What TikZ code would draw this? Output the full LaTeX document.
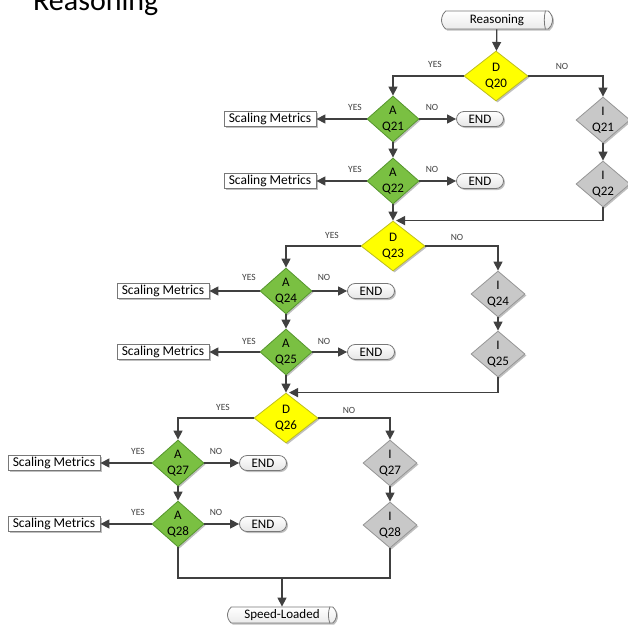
\documentclass[tikz,border=0pt]{standalone}
\usepackage{fontspec}
\setmainfont{Carlito}
\usetikzlibrary{shapes.geometric,shapes.misc,arrows.meta,shadows}
\definecolor{lin}{RGB}{64,64,64}
\definecolor{grn}{RGB}{122,192,66}
\definecolor{grnb}{RGB}{86,150,46}
\definecolor{yel}{RGB}{255,255,0}
\definecolor{yelb}{RGB}{190,190,30}
\definecolor{gry}{RGB}{200,200,200}
\definecolor{gryb}{RGB}{150,150,150}
\definecolor{boxc}{RGB}{120,120,120}
\begin{document}
\begin{tikzpicture}[x=1pt,y=-1pt,
 shad/.style={drop shadow={shadow xshift=1.5pt,shadow yshift=-1.5pt,opacity=0.25,fill=black}},
 dia/.style={shape=diamond,draw,line width=0.8pt,inner sep=0pt,minimum width=52pt,minimum height=46pt,shad},
 adia/.style={dia,fill=grn,draw=grnb},
 ddia/.style={dia,fill=yel,draw=yelb,minimum width=64pt,minimum height=50pt},
 idia/.style={dia,fill=gry,draw=gryb,minimum width=54pt,minimum height=46pt},
 dtxt/.style={align=center,font=\fontsize{13}{16}\selectfont,inner sep=0pt},
 smbox/.style={draw=boxc,fill=white,line width=0.8pt,minimum width=92pt,minimum height=15pt,inner sep=0pt,font=\fontsize{13.5}{15}\selectfont,shad},
 endbox/.style={rounded rectangle,draw=boxc,top color=white,bottom color=black!10,line width=0.8pt,minimum width=47pt,minimum height=15pt,inner sep=0pt,font=\fontsize{13}{15}\selectfont,shad},
 cylbox/.style={rounded rectangle,rounded rectangle arc length=100,draw=boxc,top color=white,bottom color=black!8,line width=0.8pt,minimum width=111pt,minimum height=18pt,inner sep=0pt,font=\fontsize{13}{15}\selectfont,shad},
 cylend/.style={draw=boxc,line width=0.8pt},
 lbl/.style={font=\fontsize{9.5}{11}\selectfont,text=lin,inner sep=0pt},
 ln/.style={draw=lin,line width=1.3pt},
 arr/.style={ln,-{Triangle[length=9pt,width=9pt]}}]
\useasboundingbox (0,0) rectangle (628,624);
\node[anchor=base west,font=\fontsize{30}{36}\selectfont,inner sep=0pt] (title) at (33,10) {Reasoning};

% nodes
\node[cylbox] (reas) at (497,20) {Reasoning};
\draw[cylend] ([xshift=-3pt]reas.north east) .. controls ([xshift=-9pt,yshift=3pt]reas.east) and ([xshift=-9pt,yshift=-3pt]reas.east) .. ([xshift=-3pt]reas.south east);
\node[ddia] (d20) at (496,76) {};
\node[dtxt] (d20t) at (d20) {D\\Q20};

\node[adia] (a21) at (393,119) {};
\node[dtxt] (a21t) at (a21) {A\\Q21};
\node[smbox] (sm21) at (270,119) {Scaling Metrics};
\node[endbox] (e21) at (480,119) {END};
\node[adia] (a22) at (393,181) {};
\node[dtxt] (a22t) at (a22) {A\\Q22};
\node[smbox] (sm22) at (270,181) {Scaling Metrics};
\node[endbox] (e22) at (480,181) {END};
\node[idia] (i21) at (603,120) {};
\node[dtxt] (i21t) at (i21) {I\\Q21};
\node[idia] (i22) at (603,184) {};
\node[dtxt] (i22t) at (i22) {I\\Q22};

\node[ddia] (d23) at (393,246) {};
\node[dtxt] (d23t) at (d23) {D\\Q23};
\node[adia] (a24) at (286,291) {};
\node[dtxt] (a24t) at (a24) {A\\Q24};
\node[smbox] (sm24) at (163,291) {Scaling Metrics};
\node[endbox] (e24) at (371,291) {END};
\node[adia] (a25) at (286,352) {};
\node[dtxt] (a25t) at (a25) {A\\Q25};
\node[smbox] (sm25) at (163,352) {Scaling Metrics};
\node[endbox] (e25) at (371,352) {END};
\node[idia] (i24) at (498,294) {};
\node[dtxt] (i24t) at (i24) {I\\Q24};
\node[idia] (i25) at (498,354) {};
\node[dtxt] (i25t) at (i25) {I\\Q25};

\node[ddia] (d26) at (286,418) {};
\node[dtxt] (d26t) at (d26) {D\\Q26};
\node[adia] (a27) at (178,463) {};
\node[dtxt] (a27t) at (a27) {A\\Q27};
\node[smbox] (sm27) at (54,463) {Scaling Metrics};
\node[endbox] (e27) at (263,463) {END};
\node[adia] (a28) at (178,524) {};
\node[dtxt] (a28t) at (a28) {A\\Q28};
\node[smbox] (sm28) at (54,524) {Scaling Metrics};
\node[endbox] (e28) at (263,524) {END};
\node[idia] (i27) at (390,463) {};
\node[dtxt] (i27t) at (i27) {I\\Q27};
\node[idia] (i28) at (390,525) {};
\node[dtxt] (i28t) at (i28) {I\\Q28};

\coordinate (join) at (282,578);
\node[cylbox,minimum width=109pt,minimum height=16pt] (speed) at (282,615) {Speed-Loaded};
\draw[cylend] ([xshift=-3pt]speed.north east) .. controls ([xshift=-9pt,yshift=3pt]speed.east) and ([xshift=-9pt,yshift=-3pt]speed.east) .. ([xshift=-3pt]speed.south east);

% labels
\node[lbl] (l1) at (435,64) {YES};
\node[lbl] (l2) at (562,66) {NO};
\node[lbl] (l3) at (355,107) {YES};
\node[lbl] (l4) at (432,107) {NO};
\node[lbl] (l5) at (355,169) {YES};
\node[lbl] (l6) at (432,169) {NO};
\node[lbl] (l7) at (332,235) {YES};
\node[lbl] (l8) at (457,237) {NO};
\node[lbl] (l9) at (249,277) {YES};
\node[lbl] (l10) at (324,277) {NO};
\node[lbl] (l11) at (249,341) {YES};
\node[lbl] (l12) at (324,341) {NO};
\node[lbl] (l13) at (223,407) {YES};
\node[lbl] (l14) at (349,410) {NO};
\node[lbl] (l15) at (138,451) {YES};
\node[lbl] (l16) at (216,451) {NO};
\node[lbl] (l17) at (138,512) {YES};
\node[lbl] (l18) at (216,512) {NO};

% connectors
\draw[arr] (reas) -- (d20);
\draw[arr] (d20.west) -| (a21.north);
\draw[arr] (d20.east) -| (i21.north);
\draw[arr] (a21.west) -- (sm21.east);
\draw[arr] (a21.east) -- (e21.west);
\draw[arr] (a21.south) -- (a22.north);
\draw[arr] (a22.west) -- (sm22.east);
\draw[arr] (a22.east) -- (e22.west);
\draw[arr] (i21.south) -- (i22.north);
\draw[arr] (a22.south) -- (d23.north);
\draw[arr] (i22.south) |- ([xshift=3pt]d23.north);

\draw[arr] (d23.west) -| (a24.north);
\draw[arr] (d23.east) -| (i24.north);
\draw[arr] (a24.west) -- (sm24.east);
\draw[arr] (a24.east) -- (e24.west);
\draw[arr] (a24.south) -- (a25.north);
\draw[arr] (a25.west) -- (sm25.east);
\draw[arr] (a25.east) -- (e25.west);
\draw[arr] (i24.south) -- (i25.north);
\draw[arr] (a25.south) -- (d26.north);
\draw[arr] (i25.south) |- ([xshift=3pt]d26.north);

\draw[arr] (d26.west) -| (a27.north);
\draw[arr] (d26.east) -| (i27.north);
\draw[arr] (a27.west) -- (sm27.east);
\draw[arr] (a27.east) -- (e27.west);
\draw[arr] (a27.south) -- (a28.north);
\draw[arr] (a28.west) -- (sm28.east);
\draw[arr] (a28.east) -- (e28.west);
\draw[arr] (i27.south) -- (i28.north);
\draw[ln] (a28.south) |- (join);
\draw[ln] (i28.south) |- (join);
\draw[arr] (join) -- (speed.north);
\end{tikzpicture}
\end{document}
